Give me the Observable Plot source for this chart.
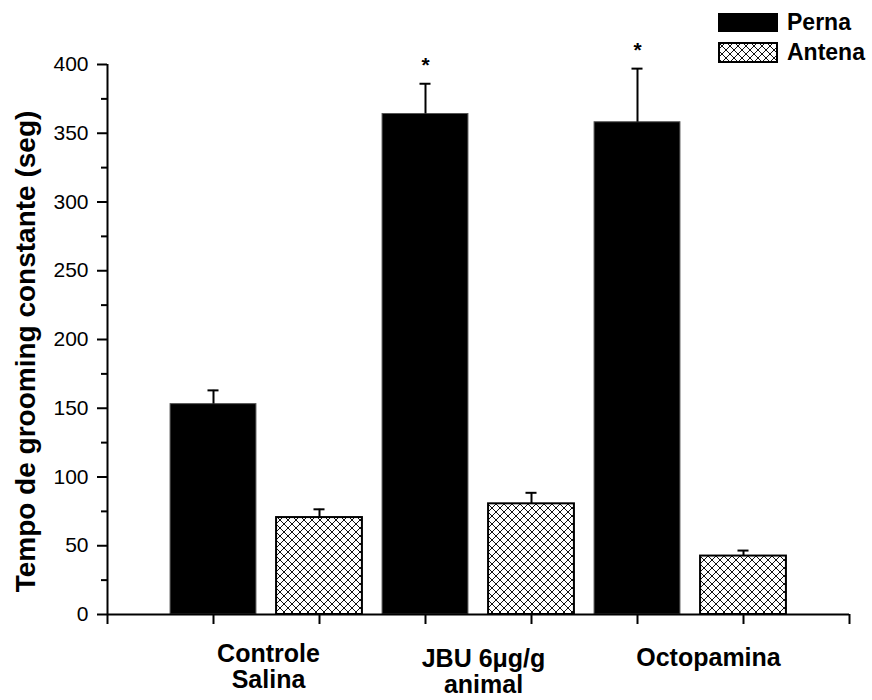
<!DOCTYPE html>
<html>
<head>
<meta charset="utf-8">
<script src="https://cdn.jsdelivr.net/npm/d3@7"></script>
<script src="https://cdn.jsdelivr.net/npm/@observablehq/plot@0.6"></script>
<style>
  body { margin: 0; background: #fff; }
  #wrap { position: relative; width: 872px; height: 700px; font-family: "Liberation Sans", Arial, sans-serif; }
  .leg { position: absolute; left: 718px; display: flex; align-items: center; font-weight: bold; font-size: 23px; color: #000; }
  .leg svg { display: block; margin-right: 9px; }
</style>
</head>
<body>
<div id="wrap"></div>
<script>
// ---- data ----
const groups = ["Controle\nSalina", "JBU 6μg/g\nanimal", "Octopamina"];
const series = ["Perna", "Antena"];
const pernaMean = [153, 364, 358];
const pernaErr = [10, 22, 39];
const antenaMean = [70.5, 80.5, 42.5];
const antenaErr = [6, 8, 4];
const pernaSignificant = [false, true, true];
const yTicks = [0, 50, 100, 150, 200, 250, 300, 350, 400];
const yMinorTicks = [25, 75, 125, 175, 225, 275, 325, 375];
const xTicks = [0, 1, 2, 3, 4, 5, 6, 7];
const yTitle = "Tempo de grooming constante (seg)";

// ---- table ----
const table = [];
groups.forEach((g, i) => {
  table.push({group: g, series: series[0], pos: 1 + 2 * i, mean: pernaMean[i], err: pernaErr[i], sig: pernaSignificant[i]});
  table.push({group: g, series: series[1], pos: 2 + 2 * i, mean: antenaMean[i], err: antenaErr[i], sig: false});
});
const groupRows = groups.map((g, i) => ({group: g, center: 1.5 + 2 * i}));

const BW = 0.81;   // bar width (fraction of slot)
const CAP = 0.052; // error cap half-width

const hatchDefs = () => {
  const defs = d3.create("svg:defs");
  const p = defs.append("pattern").attr("id", "hatch").attr("patternUnits", "userSpaceOnUse")
    .attr("width", 8).attr("height", 8);
  p.append("rect").attr("width", 8).attr("height", 8).attr("fill", "white");
  p.append("path").attr("d", "M-1,-1L9,9M9,-1L-1,9").attr("stroke", "#111").attr("stroke-width", 1);
  return defs.node();
};

const catLabel = (i, dx, dy) => Plot.text([groupRows[i]], {
  x: "center", y: () => 0, text: "group", fontSize: 25, fontWeight: "bold",
  lineAnchor: "top", lineHeight: 1.03, dx, dy, fill: "black"
});

const chart = Plot.plot({
  width: 872,
  height: 700,
  marginLeft: 107,
  marginRight: 23,
  marginTop: 64,
  marginBottom: 86,
  style: {fontFamily: '"Liberation Sans", Arial, sans-serif', fontSize: "21px", color: "black", background: "white"},
  x: {type: "linear", domain: [0, 7], axis: null},
  y: {domain: [0, 400], axis: null},
  marks: [
    hatchDefs,
    Plot.rect(table.filter(d => d.series === "Perna"), {
      x1: d => d.pos - BW / 2, x2: d => d.pos + BW / 2, y1: () => 0, y2: "mean",
      fill: "black", stroke: "#555", strokeWidth: 1
    }),
    Plot.rect(table.filter(d => d.series === "Antena"), {
      x1: d => d.pos - BW / 2, x2: d => d.pos + BW / 2, y1: () => 0, y2: "mean",
      fill: "url(#hatch)", stroke: "black", strokeWidth: 2
    }),
    Plot.ruleX(table, {x: "pos", y1: "mean", y2: d => d.mean + d.err, stroke: "black", strokeWidth: 2}),
    Plot.ruleY(table, {y: d => d.mean + d.err, x1: d => d.pos - CAP, x2: d => d.pos + CAP, stroke: "black", strokeWidth: 2}),
    Plot.text(table.filter(d => d.sig), {
      x: "pos", y: d => d.mean + d.err, text: () => "*", fontSize: 21, fontWeight: "bold", dy: -18, fill: "black"
    }),
    Plot.axisY({ticks: yTicks, tickSize: 10, tickPadding: 9, strokeWidth: 2, fontSize: 21, label: null}),
    Plot.axisY({ticks: yMinorTicks, tickSize: 6, tickFormat: () => "", strokeWidth: 2, label: null}),
    Plot.axisX({ticks: xTicks, tickSize: 10, tickFormat: () => "", strokeWidth: 2, label: null}),
    Plot.ruleX([0], {stroke: "black", strokeWidth: 2}),
    Plot.ruleY([0], {stroke: "black", strokeWidth: 2}),
    catLabel(0, 2, 29),
    catLabel(1, 5, 34),
    catLabel(2, 18, 33),
    Plot.text([yTitle], {
      frameAnchor: "left", textAnchor: "middle", rotate: -90, dx: -81, dy: 12,
      fontSize: 28, fontWeight: "bold", fill: "black"
    })
  ]
});

const wrap = document.getElementById("wrap");
wrap.appendChild(chart);

// legend (HTML overlay)
const legendHtml = `
<div class="leg" style="top:13px;height:19px;">
  <svg width="60" height="19"><rect x="0" y="0" width="60" height="19" fill="black"/></svg>${series[0]}
</div>
<div class="leg" style="top:42px;height:21px;">
  <svg width="60" height="21">
    <defs><pattern id="hatchLeg" patternUnits="userSpaceOnUse" width="8" height="8">
      <rect width="8" height="8" fill="white"/>
      <path d="M-1,-1L9,9M9,-1L-1,9" stroke="#111" stroke-width="1"/>
    </pattern></defs>
    <rect x="1" y="1" width="58" height="19" fill="url(#hatchLeg)" stroke="black" stroke-width="2"/>
  </svg>${series[1]}
</div>`;
wrap.insertAdjacentHTML("beforeend", legendHtml);
chart.style.position = "absolute";
chart.style.left = "0";
chart.style.top = "0";
</script>
</body>
</html>
